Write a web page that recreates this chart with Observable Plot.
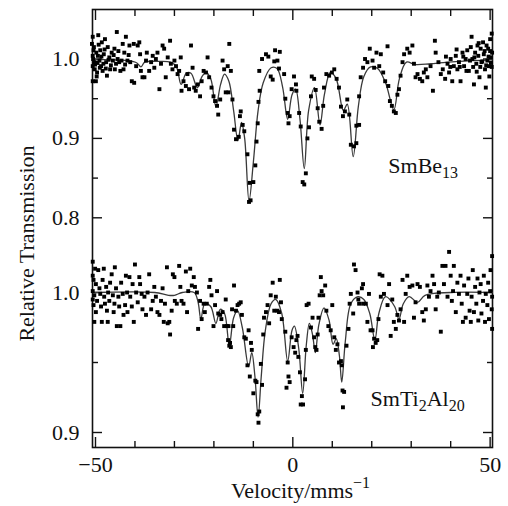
<!DOCTYPE html>
<html><head><meta charset="utf-8">
<script src="https://cdn.jsdelivr.net/npm/d3@7"></script>
<script src="https://cdn.jsdelivr.net/npm/@observablehq/plot@0.6"></script>
<style>
html,body{margin:0;padding:0;background:#fff;}
#chart{position:relative;width:508px;height:506px;}
#chart svg{position:absolute;left:0;top:0;}
</style></head><body><div id="chart"></div>
<script>
// ---- Data (velocity mm/s, relative transmission) ----
const sampleNames = ["SmBe13", "SmTi2Al20"];
const xAxisTitle = "Velocity/mms";
const xAxisExponent = "\u22121";
const yAxisTitle = "Relative Transmission";

const xMajorTicks = [-50, 0, 50];
const xMinorTicks = [-40, -30, -20, -10, 10, 20, 30, 40];
const topMajorTicks = [0.8, 0.9, 1.0];
const topMinorTicks = [0.85, 0.95];
const bottomMajorTicks = [0.9, 1.0];
const bottomMinorTicks = [0.95];

const smBe13Points = [
[-50.7,1.028],[-50.9,1.019],[-50.5,1.011],[-50.7,1.004],[-50.3,0.996],[-50.7,0.991],[-50.2,0.987],[-50.7,0.972],[-49.9,0.972],[-49.6,0.983],[-49.4,1.004],[-49.3,1.030],[-49.0,0.998],[-48.8,1.011],[-48.6,0.991],[-48.4,1.021],[-48.2,0.985],[-47.9,1.006],[-47.6,1.025],[-47.3,0.996],[-47.1,0.979],[-46.9,1.015],[-46.5,1.002],[-46.3,0.987],[-45.9,1.008],[-45.6,0.998],[-45.2,1.013],[-45.1,0.987],[-44.6,1.034],[-44.4,1.000],[-44.0,0.996],[-43.7,0.985],[-43.1,1.019],[-42.9,0.987],[-42.7,1.008],[-42.3,1.028],[-41.9,0.998],[-41.4,1.017],[-41.2,0.996],[-40.8,0.972],[-40.3,1.019],[-40.2,0.970],[-39.7,0.991],[-39.3,1.017],[-38.9,1.021],[-38.7,1.006],[-38.5,0.985],[-38.1,0.977],[-37.6,0.977],[-37.2,0.998],[-37.0,1.008],[-36.4,0.985],[-35.9,0.996],[-35.5,1.004],[-35.1,0.989],[-34.7,1.000],[-34.3,1.008],[-33.8,0.962],[-33.4,0.994],[-33.0,1.017],[-32.6,1.013],[-32.2,0.977],[-31.7,1.002],[-31.1,1.023],[-30.9,0.994],[-30.5,0.987],[-30.0,0.998],[-29.6,0.991],[-29.2,0.981],[-28.8,0.985],[-28.4,1.002],[-28.2,0.960],[-27.7,0.972],[-27.1,0.966],[-26.7,0.981],[-26.3,0.962],[-25.8,1.017],[-25.4,0.989],[-25.0,0.964],[-24.6,0.960],[-24.1,0.968],[-23.5,0.953],[-23.1,0.972],[-22.6,0.985],[-22.0,0.983],[-21.6,1.002],[-21.2,0.977],[-20.6,0.964],[-20.1,0.953],[-19.7,0.947],[-19.2,0.941],[-18.9,0.930],[-18.4,0.949],[-17.8,0.998],[-17.4,0.987],[-17.0,0.958],[-16.5,0.991],[-16.1,1.019],[-16.3,0.958],[-15.7,0.985],[-15.3,0.949],[-14.9,0.911],[-14.4,0.899],[-13.7,0.902],[-13.4,0.928],[-13.2,0.934],[-12.7,0.917],[-12.3,0.909],[-11.5,0.880],[-11.1,0.820],[-10.7,0.822],[-10.9,0.844],[-10.0,0.845],[-9.5,0.866],[-9.2,0.896],[-8.9,0.919],[-8.7,0.946],[-8.4,0.960],[-8.5,0.985],[-7.8,1.000],[-6.8,1.006],[-6.2,1.003],[-5.6,0.978],[-5.1,0.974],[-4.5,1.011],[-3.3,1.009],[-3.9,0.998],[-4.7,0.997],[-3.5,0.988],[-2.2,0.981],[-1.9,0.950],[-1.3,0.932],[-1.1,0.919],[-0.8,0.928],[-0.3,0.962],[0.3,0.978],[0.8,0.968],[0.9,0.960],[1.6,0.932],[2.0,0.915],[2.5,0.845],[2.9,0.842],[3.3,0.856],[3.7,0.900],[4.1,0.914],[4.6,0.953],[4.8,0.978],[5.4,0.975],[5.8,0.961],[6.3,0.938],[6.7,0.921],[7.3,0.912],[7.7,0.941],[7.9,0.964],[8.5,0.981],[9.2,0.979],[9.9,0.983],[10.5,0.987],[11.1,0.975],[11.7,0.964],[12.2,0.940],[12.7,0.928],[13.2,0.934],[13.8,0.949],[14.3,0.930],[14.7,0.892],[15.5,0.890],[16.1,0.916],[16.8,0.917],[16.1,0.894],[16.8,0.953],[17.2,0.977],[17.8,0.989],[18.3,1.000],[18.9,0.996],[19.5,1.013],[20.2,0.998],[20.6,0.989],[21.2,1.008],[21.9,0.991],[22.3,1.006],[22.9,0.983],[23.4,0.972],[24.0,1.016],[24.2,0.966],[24.6,0.947],[25.1,0.941],[25.6,0.934],[26.1,0.932],[26.5,0.955],[26.9,0.962],[27.3,0.979],[27.8,0.996],[28.2,1.006],[29.0,1.013],[29.6,1.008],[30.3,1.017],[30.7,0.994],[31.1,0.977],[31.6,0.981],[32.2,0.975],[32.8,0.972],[33.2,0.983],[33.7,0.987],[34.1,0.977],[34.9,0.991],[35.5,0.960],[36.0,1.023],[36.2,1.008],[36.9,0.996],[37.5,0.981],[38.0,0.987],[38.6,0.975],[39.2,0.994],[39.6,0.983],[40.0,1.000],[40.4,0.972],[40.8,0.991],[41.3,1.004],[41.7,0.987],[42.1,0.996],[42.5,0.972],[43.0,1.008],[43.4,0.991],[43.8,1.000],[44.2,1.011],[44.6,0.985],[45.1,1.015],[45.3,1.028],[45.5,1.000],[45.9,0.968],[46.2,1.008],[46.5,0.994],[46.8,1.017],[47.0,1.004],[47.3,0.977],[47.6,1.013],[47.8,0.996],[48.2,1.021],[48.4,1.006],[48.7,0.987],[48.9,0.964],[49.3,0.998],[49.5,1.013],[49.7,0.991],[50.0,1.025],[50.1,1.002],[50.4,1.032],[50.4,0.990],[50.5,1.008],
[-50.6,1.000],[-50.4,1.015],[-50.1,0.993],[-49.8,1.008],[-49.7,0.978],[-49.5,0.995],[-49.2,1.018],[-48.9,0.989],[-48.5,1.003],[-48.0,0.994],[-47.7,1.012],[-47.4,0.988],[-46.7,0.999],[-46.1,0.992],[-45.4,1.005],[-44.8,0.994],[-44.2,1.010],[-43.4,0.998],[-42.5,0.993],[-41.6,1.005],
[50.2,0.995],[50.0,1.010],[49.8,0.978],[49.6,1.003],[49.1,1.017],[49.0,0.992],[48.6,1.010],[48.0,0.997],[47.5,0.990],[47.1,1.020],[46.6,0.984],[46.0,1.002],[45.7,0.990],[44.9,0.998],[44.0,0.985],[43.2,1.003],[42.3,0.990],[41.5,1.012],[39.9,0.990],[38.8,1.003]
];

const smBe13Fit = [
[-50.7,0.999],[-46,0.999],[-42,0.998],[-39.5,0.995],[-38.5,0.99],[-37.5,0.996],[-34,0.997],[-31,0.996],[-29.5,0.99],[-28.3,0.968],[-27,0.982],[-25.8,0.982],[-24.2,0.964],[-23,0.978],[-22,0.983],[-20.8,0.975],[-19.5,0.94],[-18.3,0.968],[-17.3,0.981],[-16.2,0.972],[-15,0.935],[-13.9,0.897],[-13,0.92],[-12.2,0.9],[-11.1,0.821],[-10,0.87],[-8.8,0.935],[-7.5,0.97],[-5.5,0.989],[-4,0.988],[-2.6,0.965],[-1.3,0.924],[-0.2,0.955],[0.7,0.962],[1.8,0.925],[2.9,0.862],[4,0.935],[5.5,0.964],[6.9,0.917],[8,0.955],[9.5,0.983],[11,0.975],[12.8,0.935],[13.8,0.943],[15.3,0.877],[16.6,0.94],[18,0.978],[19.7,0.99],[21.5,0.988],[23.5,0.97],[25.6,0.936],[27,0.975],[28.8,0.996],[31,0.993],[35,0.994],[42,0.997],[50.5,0.999]
];

const smTi2Al20Points = [
[-50.7,1.022],[-50.1,1.017],[-50.7,1.012],[-50.5,1.009],[-49.9,1.006],[-50.7,1.001],[-50.3,0.998],[-50.7,0.995],[-49.6,0.994],[-50.5,0.991],[-49.9,0.986],[-50.3,0.979],[-49.3,1.016],[-49.0,1.003],[-48.8,0.999],[-48.6,0.990],[-48.4,0.979],[-48.2,1.009],[-47.9,1.017],[-47.8,0.997],[-47.6,0.992],[-47.3,1.004],[-47.1,0.987],[-46.9,0.979],[-46.8,1.000],[-46.5,0.994],[-46.3,1.007],[-45.9,1.013],[-45.6,0.998],[-45.4,0.986],[-45.2,0.992],[-45.1,1.018],[-44.8,1.003],[-44.6,0.976],[-44.2,0.997],[-44.0,0.990],[-43.7,0.976],[-43.5,1.007],[-43.1,0.999],[-42.9,0.984],[-42.5,0.991],[-42.3,1.012],[-42.0,1.000],[-41.9,0.986],[-41.4,1.011],[-41.2,0.997],[-40.8,0.990],[-40.6,1.006],[-40.3,0.979],[-40.0,1.020],[-39.7,1.000],[-39.3,0.993],[-38.9,1.011],[-38.7,1.006],[-38.3,0.999],[-38.1,0.988],[-37.6,0.997],[-37.2,0.984],[-36.8,1.000],[-36.4,1.013],[-35.9,0.988],[-35.5,0.994],[-35.1,1.004],[-34.7,0.997],[-34.3,0.986],[-33.8,0.984],[-33.4,0.994],[-33.0,1.003],[-32.7,0.979],[-32.4,0.992],[-31.9,1.018],[-31.7,0.978],[-31.3,0.979],[-31.1,0.970],[-30.7,0.987],[-30.4,1.013],[-30.0,1.011],[-29.9,0.994],[-29.4,0.992],[-28.8,1.019],[-28.5,1.004],[-28.2,0.994],[-27.7,0.992],[-27.1,1.015],[-26.8,0.986],[-26.5,1.001],[-26.0,1.017],[-25.6,1.005],[-25.1,1.011],[-24.8,1.004],[-24.3,1.000],[-24.0,0.974],[-23.5,0.994],[-23.1,0.981],[-22.6,0.992],[-22.3,0.986],[-21.8,0.992],[-21.2,1.004],[-20.9,1.009],[-20.6,0.998],[-20.1,0.976],[-19.7,0.991],[-19.2,1.001],[-18.9,0.985],[-18.4,0.984],[-18.1,0.981],[-17.8,0.986],[-17.4,0.976],[-17.0,0.995],[-16.7,0.976],[-16.4,0.966],[-16.1,0.962],[-16.3,0.976],[-15.9,0.964],[-15.7,0.961],[-15.4,0.988],[-15.1,0.976],[-14.9,1.005],[-14.4,0.987],[-14.0,0.991],[-13.6,0.992],[-13.2,0.993],[-12.9,0.984],[-12.3,0.968],[-11.9,0.967],[-11.5,0.948],[-11.2,0.973],[-10.9,0.940],[-10.6,0.964],[-10.4,0.959],[-10.0,0.928],[-9.5,0.937],[-9.2,0.936],[-8.9,0.913],[-8.7,0.907],[-8.5,0.915],[-8.1,0.949],[-7.8,0.934],[-7.5,0.970],[-7.3,0.982],[-6.8,0.986],[-6.4,0.991],[-6.0,0.978],[-5.6,0.998],[-5.1,1.007],[-4.7,0.987],[-4.3,0.997],[-3.9,0.987],[-3.5,0.986],[-3.3,1.009],[-3.0,0.993],[-2.8,0.981],[-1.9,0.972],[-1.3,0.950],[-1.1,0.940],[-1.6,0.932],[-0.8,0.936],[-0.3,0.968],[0.2,0.961],[0.6,0.957],[0.9,0.966],[1.2,0.969],[1.4,0.954],[1.8,0.943],[2.0,0.920],[2.3,0.926],[2.6,0.920],[3.1,0.938],[3.3,0.959],[3.5,0.991],[4.0,0.992],[4.6,0.975],[5.0,0.982],[5.4,0.968],[5.7,0.961],[6.0,0.959],[6.3,0.970],[6.5,0.982],[6.8,0.998],[7.1,1.011],[7.3,1.001],[7.7,0.998],[8.2,1.005],[8.5,0.987],[9.0,0.976],[9.6,0.973],[10.0,0.991],[10.5,0.968],[10.9,0.959],[11.3,0.963],[11.7,0.950],[12.2,0.951],[12.4,0.948],[12.6,0.930],[12.7,0.918],[13.0,0.929],[13.6,0.962],[14.1,0.974],[14.4,0.992],[14.7,0.999],[15.3,0.985],[15.5,1.020],[15.9,1.016],[16.4,1.000],[16.8,0.992],[17.5,1.003],[17.8,1.006],[16.6,0.995],[17.8,0.992],[18.5,0.992],[18.9,0.979],[19.3,0.999],[19.7,0.973],[20.2,0.973],[20.3,0.961],[20.6,0.967],[21.0,0.964],[21.4,0.966],[21.7,0.981],[22.0,1.013],[22.3,0.997],[22.7,1.012],[23.1,0.999],[24.0,0.991],[24.4,1.006],[24.8,0.969],[25.2,0.995],[25.6,0.979],[26.1,0.974],[26.5,0.984],[26.9,0.980],[27.3,0.988],[27.8,1.009],[28.2,0.979],[28.6,0.999],[29.0,1.012],[29.6,1.004],[30.3,1.005],[30.7,0.982],[31.1,0.993],[31.6,1.006],[32.2,1.004],[32.8,0.986],[33.2,0.980],[33.7,0.988],[34.1,1.005],[34.5,0.997],[34.9,1.001],[35.4,1.012],[35.8,1.006],[36.2,0.988],[36.6,0.997],[37.0,1.000],[37.5,0.972],[37.9,1.019],[38.3,1.006],[38.7,1.019],[39.2,0.997],[39.6,1.029],[40.0,1.012],[40.3,0.994],[40.6,1.001],[40.8,1.019],[41.3,0.986],[41.7,1.007],[42.1,0.999],[42.5,1.012],[42.8,0.992],[43.1,0.979],[43.4,1.005],[43.8,0.982],[44.2,0.999],[44.5,1.010],[44.8,0.987],[45.1,0.979],[45.3,0.997],[45.6,1.016],[45.9,0.986],[46.2,1.004],[46.5,0.992],[46.8,1.010],[47.0,0.980],[47.3,1.000],[47.6,1.006],[47.8,0.985],[48.2,0.994],[48.4,1.012],[48.7,0.979],[48.9,0.999],[49.3,0.991],[49.5,1.007],[49.7,0.981],[50.0,1.001],[50.1,1.016],[50.4,0.988],[50.5,0.974],[50.5,0.997],[50.5,1.026]
];

const smTi2Al20Fit = [
[-50.7,1.0],[-35,1.0],[-31.5,0.998],[-30,0.998],[-28,1.0],[-25,1.0],[-24,0.993],[-23.3,0.981],[-22.3,0.992],[-20.8,0.99],[-19.5,0.978],[-18.4,0.988],[-17.3,0.985],[-16.1,0.962],[-15,0.982],[-14,0.987],[-12.8,0.975],[-11.2,0.947],[-10.4,0.957],[-9.6,0.94],[-8.8,0.911],[-8,0.94],[-7,0.972],[-5.5,0.992],[-4.3,0.995],[-2.8,0.985],[-1.3,0.951],[-0.2,0.973],[0.4,0.976],[1.5,0.96],[2.5,0.928],[3.4,0.962],[4.2,0.978],[5,0.97],[5.7,0.957],[6.6,0.977],[7.9,0.989],[9.2,0.98],[10.2,0.963],[11,0.967],[11.8,0.955],[12.4,0.936],[13.3,0.965],[14.7,0.992],[16.5,0.997],[18,0.995],[19.5,0.985],[20.8,0.966],[21.8,0.985],[23.5,0.997],[25.8,0.99],[26.9,0.981],[28,0.992],[29.5,0.997],[31.6,0.993],[33.5,0.998],[40,1.0],[50.5,1.0]
];

// ---- Layout ----
const W = 508, H = 506;
const font = "'Liberation Serif', 'Times New Roman', serif";
const common = {
  width: W, height: H,
  marginLeft: 92, marginRight: 16, marginTop: 9, marginBottom: 59,
  style: {fontFamily: font, fontSize: "22px", background: "transparent", overflow: "visible", color: "#111"}
};
const xScale = {domain: [-50.76, 50.6], axis: null};
const fmtX = d => d < 0 ? "\u2212" + Math.abs(d) : String(d);
const fmtY = d3.format(".1f");
const tickStroke = {strokeWidth: 1.4, fill: "none", label: null};

function yTickMarks(major, minor, labels) {
  return [
    Plot.axisY(major, {anchor: "left", tickSize: -10, ...tickStroke}),
    Plot.axisY(minor, {anchor: "left", tickSize: -6, ...tickStroke}),
    Plot.axisY(major, {anchor: "right", tickSize: -10, ...tickStroke}),
    Plot.axisY(minor, {anchor: "right", tickSize: -6, ...tickStroke}),
    Plot.axisY(labels, {anchor: "left", tickSize: 0, tickPadding: 13, tickFormat: fmtY, label: null})
  ];
}

const topPlot = Plot.plot({
  ...common,
  x: xScale,
  y: {domain: [0.8, 1.0], range: [217.3, 58.5], axis: null},
  marks: [
    Plot.axisX(xMajorTicks, {anchor: "bottom", tickSize: -10, ...tickStroke}),
    Plot.axisX(xMinorTicks, {anchor: "bottom", tickSize: -6, ...tickStroke}),
    Plot.axisX(xMajorTicks, {anchor: "top", tickSize: -10, ...tickStroke}),
    Plot.axisX(xMinorTicks, {anchor: "top", tickSize: -6, ...tickStroke}),
    Plot.axisX(xMajorTicks, {anchor: "bottom", tickSize: 0, tickPadding: 9, tickFormat: fmtX, label: null}),
    ...yTickMarks([...topMajorTicks], [...topMinorTicks], [...topMajorTicks]),
    Plot.frame({stroke: "#111", strokeWidth: 1.6}),
    Plot.line(smBe13Fit, {x: d => d[0], y: d => d[1], curve: "catmull-rom", stroke: "#3a3a3a", strokeWidth: 1.3}),
    Plot.dot(smBe13Points, {x: d => d[0], y: d => d[1], symbol: "square", r: 2.2, fill: "#000", stroke: "none"}),
    Plot.text([sampleNames[0]], {x: 24.2, y: 0.857, text: d => d, textAnchor: "start", lineAnchor: "bottom"}),
    Plot.text([yAxisTitle], {frameAnchor: "left", rotate: -90, dx: -59, dy: 15, text: d => d, textAnchor: "middle", lineAnchor: "bottom"}),
    Plot.text([xAxisTitle], {frameAnchor: "bottom", dx: 8, dy: 50, text: d => d, textAnchor: "middle", lineAnchor: "bottom"})
  ]
});

const bottomPlot = Plot.plot({
  ...common,
  x: xScale,
  y: {domain: [0.9, 1.0], range: [432, 292], axis: null},
  marks: [
    ...yTickMarks([...bottomMajorTicks], [...bottomMinorTicks], [...bottomMajorTicks]),
    Plot.line(smTi2Al20Fit, {x: d => d[0], y: d => d[1], curve: "catmull-rom", stroke: "#3a3a3a", strokeWidth: 1.3}),
    Plot.dot(smTi2Al20Points, {x: d => d[0], y: d => d[1], symbol: "square", r: 2.2, fill: "#000", stroke: "none"}),
    Plot.text([sampleNames[1]], {x: 19.7, y: 0.919, text: d => d, textAnchor: "start", lineAnchor: "bottom"})
  ]
});

// rich text: subscripts in formulas, superscript in unit
function enrich(svg) {
  d3.select(svg).selectAll("text").each(function() {
    const t = this.textContent;
    const sel = d3.select(this);
    if (sampleNames.includes(t)) {
      sel.text("");
      const parts = t.split(/(\d+)/).filter(s => s.length);
      let shifted = false;
      for (const p of parts) {
        const isNum = /^\d+$/.test(p);
        const ts = sel.append("tspan").text(p);
        if (isNum) { ts.attr("font-size", "16px").attr("dy", shifted ? 0 : 5); shifted = true; }
        else { if (shifted) ts.attr("dy", -5); shifted = false; }
      }
    } else if (t === xAxisTitle) {
      sel.append("tspan").text(xAxisExponent).attr("font-size", "16px").attr("dy", -10);
    }
  });
}
enrich(topPlot); enrich(bottomPlot);
const chart = document.getElementById("chart");
chart.appendChild(topPlot);
chart.appendChild(bottomPlot);
</script></body></html>
